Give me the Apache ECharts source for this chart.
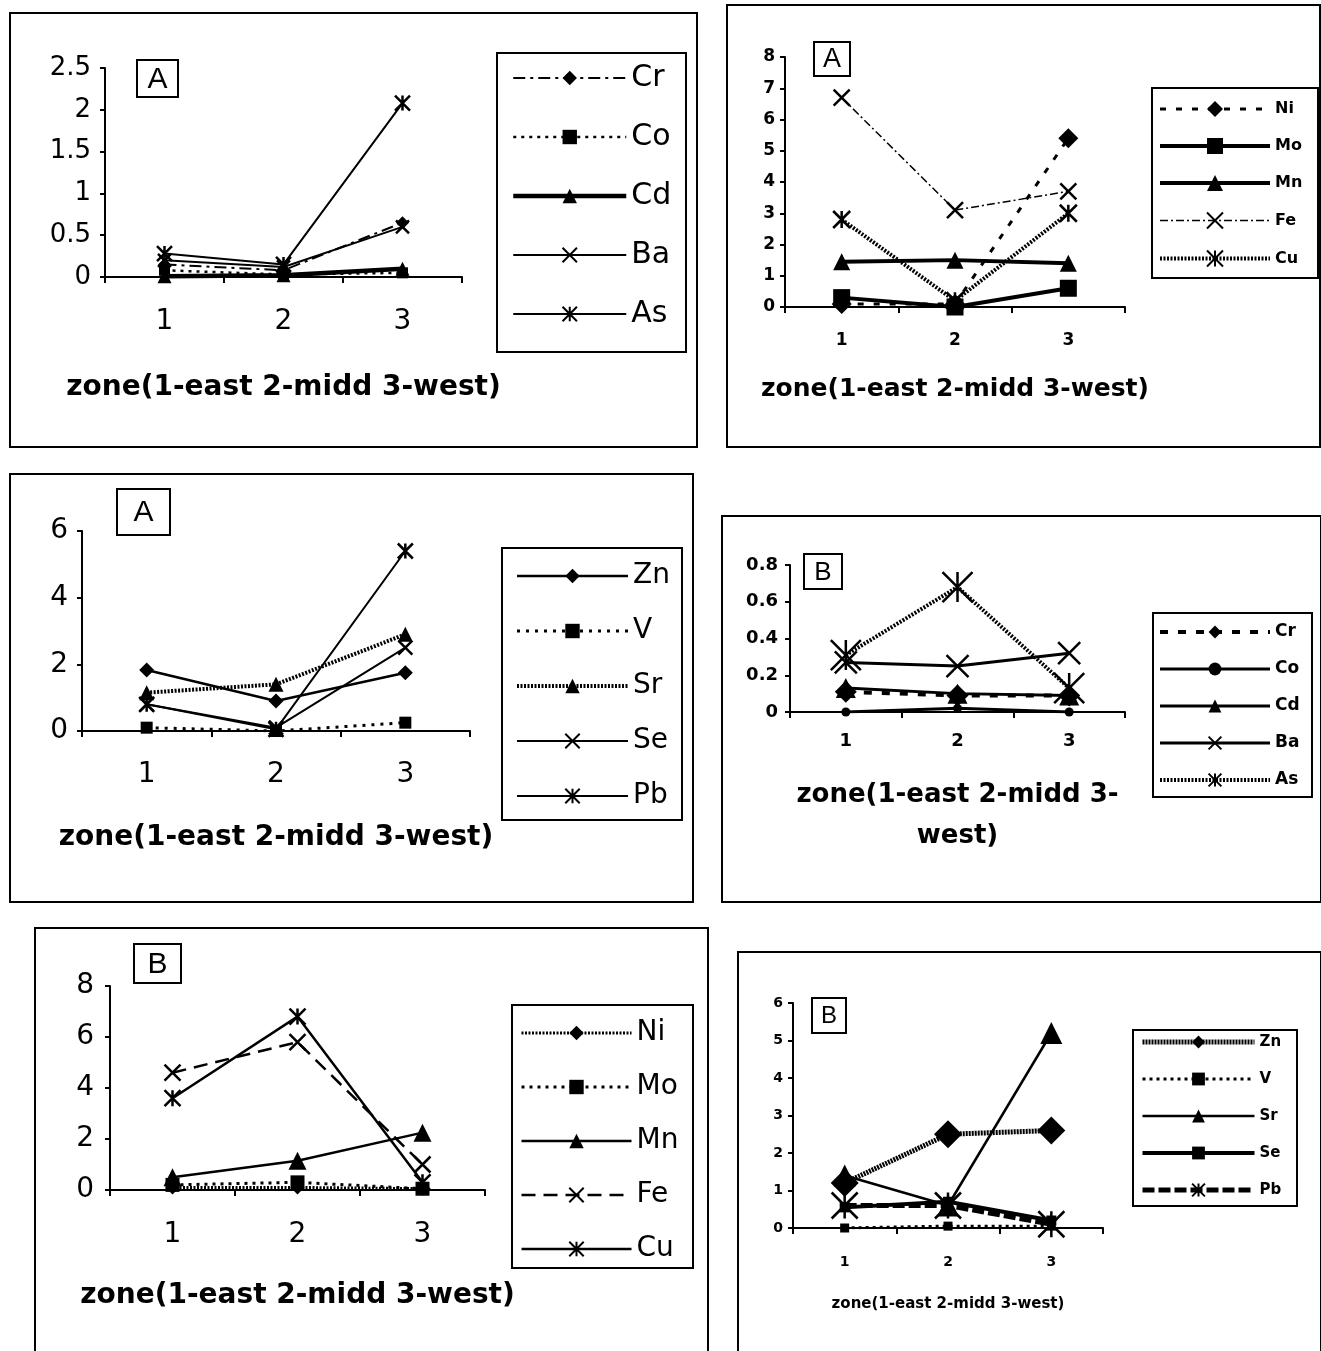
<!DOCTYPE html>
<html><head><meta charset="utf-8">
<script src="https://cdn.jsdelivr.net/npm/echarts@6/dist/echarts.min.js"></script>
<style>html,body{margin:0;padding:0;background:#fff}#c{width:1321px;height:1351px}</style>
</head><body><div id="c"></div>
<script>
// ---------------- DATA ----------------
const zones = ['1', '2', '3'];
const xAxisTitle = 'zone(1-east 2-midd 3-west)';
const xAxisTitleWrapped = 'zone(1-east 2-midd 3-\nwest)';

// Panel 1 (A) : Cr Co Cd Ba As
const p1Names = ['Cr', 'Co', 'Cd', 'Ba', 'As'];
const p1Cr = [0.15, 0.08, 0.65];
const p1Co = [0.08, 0.03, 0.05];
const p1Cd = [0.01, 0.02, 0.10];
const p1Ba = [0.20, 0.12, 0.60];
const p1As = [0.28, 0.15, 2.08];
const p1YAxis = [0, 2.5, 0.5];

// Panel 2 (A) : Ni Mo Mn Fe Cu
const p2Names = ['Ni', 'Mo', 'Mn', 'Fe', 'Cu'];
const p2Ni = [0.10, 0.10, 5.40];
const p2Mo = [0.30, 0.00, 0.60];
const p2Mn = [1.45, 1.50, 1.40];
const p2Fe = [6.70, 3.10, 3.70];
const p2Cu = [2.80, 0.20, 3.00];
const p2YAxis = [0, 8, 1];

// Panel 3 (A) : Zn V Sr Se Pb
const p3Names = ['Zn', 'V', 'Sr', 'Se', 'Pb'];
const p3Zn = [1.83, 0.90, 1.75];
const p3V  = [0.10, 0.00, 0.25];
const p3Sr = [1.15, 1.40, 2.90];
const p3Se = [0.80, 0.10, 2.50];
const p3Pb = [0.80, 0.05, 5.40];
const p3YAxis = [0, 6, 2];

// Panel 4 (B) : Cr Co Cd Ba As
const p4Names = ['Cr', 'Co', 'Cd', 'Ba', 'As'];
const p4Cr = [0.11, 0.09, 0.09];
const p4Co = [0.00, 0.02, 0.00];
const p4Cd = [0.13, 0.10, 0.09];
const p4Ba = [0.27, 0.25, 0.32];
const p4As = [0.31, 0.68, 0.13];
const p4YAxis = [0, 0.8, 0.2];

// Panel 5 (B) : Ni Mo Mn Fe Cu
const p5Names = ['Ni', 'Mo', 'Mn', 'Fe', 'Cu'];
const p5Ni = [0.10, 0.10, 0.05];
const p5Mo = [0.20, 0.30, 0.05];
const p5Mn = [0.50, 1.15, 2.25];
const p5Fe = [4.60, 5.80, 1.00];
const p5Cu = [3.60, 6.80, 0.30];
const p5YAxis = [0, 8, 2];

// Panel 6 (B) : Zn V Sr Se Pb
const p6Names = ['Zn', 'V', 'Sr', 'Se', 'Pb'];
const p6Zn = [1.20, 2.50, 2.60];
const p6V  = [0.00, 0.05, 0.05];
const p6Sr = [1.40, 0.60, 5.20];
const p6Se = [0.55, 0.70, 0.20];
const p6Pb = [0.60, 0.60, 0.10];
const p6YAxis = [0, 6, 1];

const panelTags = ['A', 'A', 'A', 'B', 'B', 'B'];

// ---------------- STYLES / LAYOUT ----------------
const XS = 'path://M0,0L10,10M0,10L10,0';
const STAR = 'path://M0,0L10,10M0,10L10,0M5,0L5,10';
const HATCH = [2, 1.5];
const F = 'DejaVu Sans';

function st(type, width, symbol, size) { return {type, width, symbol, size}; }

const layouts = [
  { // P1
    frame: [10, 13, 687, 434], grid: [105, 68, 357, 209],
    yFont: 26, yBold: 'normal', yMargin: 14, xFont: 28, xBold: 'normal', xMargin: 31,
    name: xAxisTitle, nameGap: 94, nameFont: 28, nameLH: 34,
    legend: {x: 511, y: 63, w: 113, h: 18, L: 30, gap: 29, font: 30, bold: 'normal'},
    lbox: [497, 53, 189, 299], tag: [137, 60, 41, 37, 30],
    styles: [st([12,5,3,5], 2, 'diamond', 13), st([3,5], 2.5, 'rect', 11), st('solid', 4.5, 'triangle', 14),
             st('solid', 2, XS, 13), st('solid', 2, STAR, 15)]
  },
  { // P2
    frame: [727, 5, 593, 442], grid: [785, 57, 340, 250],
    yFont: 17, yBold: 'bold', yMargin: 10, xFont: 17, xBold: 'bold', xMargin: 25,
    name: xAxisTitle, nameGap: 67, nameFont: 25, nameLH: 30,
    legend: {x: 1158, y: 99, w: 110, h: 20, L: 20, gap: 17, font: 16, bold: 'bold'},
    lbox: [1152, 88, 166, 190], tag: [814, 42, 36, 34, 27],
    styles: [st([6,10], 3, 'diamond', 20), st('solid', 4, 'rect', 17), st('solid', 4, 'triangle', 17),
             st([8,3,2,3], 1.5, XS, 16), st(HATCH, 4, STAR, 17)]
  },
  { // P3
    frame: [10, 474, 683, 428], grid: [82, 531, 388, 200],
    yFont: 28, yBold: 'normal', yMargin: 14, xFont: 28, xBold: 'normal', xMargin: 30,
    name: xAxisTitle, nameGap: 90, nameFont: 28, nameLH: 34,
    legend: {x: 515, y: 561, w: 111, h: 18, L: 30, gap: 25, font: 28, bold: 'normal'},
    lbox: [502, 548, 180, 272], tag: [117, 489, 53, 46, 30],
    styles: [st('solid', 2.5, 'diamond', 15), st([3,6], 3, 'rect', 12), st(HATCH, 4, 'triangle', 15),
             st('solid', 2, XS, 14), st('solid', 2, STAR, 15)]
  },
  { // P4
    frame: [722, 516, 599, 386], grid: [790, 565, 335, 147],
    yFont: 18, yBold: 'bold', yMargin: 12, xFont: 18, xBold: 'bold', xMargin: 20,
    name: xAxisTitleWrapped, nameGap: 63, nameFont: 26, nameLH: 41,
    legend: {x: 1158, y: 622, w: 110, h: 16, L: 20, gap: 17, font: 17, bold: 'bold'},
    lbox: [1153, 613, 159, 184], tag: [804, 554, 38, 35, 26],
    styles: [st([8,10], 4, 'diamond', 22), st('solid', 3, 'circle', 9), st('solid', 3, 'triangle', 20),
             st('solid', 3, XS, 22), st(HATCH, 4, STAR, 30)]
  },
  { // P5
    frame: [35, 928, 673, 430], grid: [110, 986, 375, 204],
    yFont: 28, yBold: 'normal', yMargin: 16, xFont: 28, xBold: 'normal', xMargin: 31,
    name: xAxisTitle, nameGap: 89, nameFont: 28, nameLH: 34,
    legend: {x: 520, y: 1018, w: 110, h: 18, L: 30, gap: 24, font: 28, bold: 'normal'},
    lbox: [512, 1005, 181, 263], tag: [134, 944, 47, 39, 30],
    styles: [st(HATCH, 3, 'diamond', 14), st([3,5], 3, 'rect', 14), st('solid', 2.5, 'triangle', 18),
             st([14,8], 2.5, XS, 16), st('solid', 2.5, STAR, 16)]
  },
  { // P6
    frame: [738, 952, 583, 406], grid: [793, 1003, 310, 225],
    yFont: 14, yBold: 'bold', yMargin: 10, xFont: 14, xBold: 'bold', xMargin: 27,
    name: xAxisTitle, nameGap: 67, nameFont: 15, nameLH: 18,
    legend: {x: 1140, y: 1032, w: 112, h: 16, L: 20, gap: 17, font: 15, bold: 'bold'},
    lbox: [1133, 1030, 164, 176], tag: [812, 998, 34, 35, 24],
    styles: [st([2,1], 5, 'diamond', 28), st([3,4], 3, 'rect', 9), st('solid', 2.5, 'triangle', 22),
             st('solid', 4, 'rect', 10), st([12,4], 5, STAR, 26)]
  }
];

const panelNames = [p1Names, p2Names, p3Names, p4Names, p5Names, p6Names];
const panelData = [
  [p1Cr, p1Co, p1Cd, p1Ba, p1As],
  [p2Ni, p2Mo, p2Mn, p2Fe, p2Cu],
  [p3Zn, p3V, p3Sr, p3Se, p3Pb],
  [p4Cr, p4Co, p4Cd, p4Ba, p4As],
  [p5Ni, p5Mo, p5Mn, p5Fe, p5Cu],
  [p6Zn, p6V, p6Sr, p6Se, p6Pb]
];
const panelY = [p1YAxis, p2YAxis, p3YAxis, p4YAxis, p5YAxis, p6YAxis];

// ---------------- BUILD ----------------
const grid = [], xAxis = [], yAxis = [], series = [], legend = [], graphic = [];

layouts.forEach((Lo, i) => {
  grid.push({left: Lo.grid[0], top: Lo.grid[1], width: Lo.grid[2], height: Lo.grid[3], containLabel: false});
  xAxis.push({
    type: 'category', gridIndex: i, data: zones, boundaryGap: true,
    axisLine: {lineStyle: {color: '#000', width: 2}},
    axisTick: {show: true, length: 6, lineStyle: {color: '#000', width: 2}},
    axisLabel: {color: '#000', fontSize: Lo.xFont, fontWeight: Lo.xBold, fontFamily: F, margin: Lo.xMargin},
    splitLine: {show: false},
    name: Lo.name, nameLocation: 'middle', nameGap: Lo.nameGap,
    nameTextStyle: {color: '#000', fontSize: Lo.nameFont, fontWeight: 'bold', fontFamily: F, lineHeight: Lo.nameLH}
  });
  const ya = panelY[i];
  yAxis.push({
    type: 'value', gridIndex: i, min: ya[0], max: ya[1], interval: ya[2],
    axisLine: {show: true, lineStyle: {color: '#000', width: 2}},
    axisTick: {show: true, length: 5, lineStyle: {color: '#000', width: 2}},
    axisLabel: {color: '#000', fontSize: Lo.yFont, fontWeight: Lo.yBold, fontFamily: F, margin: Lo.yMargin},
    splitLine: {show: false}
  });
  const names = panelNames[i];
  const legendData = [];
  names.forEach((nm, k) => {
    const s = Lo.styles[k];
    const isPath = typeof s.symbol === 'string' && s.symbol.indexOf('path://') === 0;
    const sid = nm + '#' + i;
    legendData.push(sid);
    series.push({
      type: 'line', name: sid, xAxisIndex: i, yAxisIndex: i,
      data: panelData[i][k],
      symbol: s.symbol, symbolSize: s.size, showAllSymbol: true,
      lineStyle: {color: '#000', width: s.width, type: s.type},
      itemStyle: isPath ? {color: 'none', borderColor: '#000', borderWidth: 2.5}
                        : {color: '#000', borderWidth: 0},
      emphasis: {disabled: true},
      z: 2 + k
    });
  });
  const lg = Lo.legend;
  legend.push({
    orient: 'vertical', left: lg.x, top: lg.y, padding: 0,
    itemWidth: lg.w, itemHeight: lg.h, itemGap: lg.gap,
    data: legendData, selectedMode: false,
    formatter: n => n.split('#')[0],
    lineStyle: {width: 'inherit', type: 'inherit'},
    textStyle: {color: '#000', fontSize: lg.font, fontWeight: lg.bold, fontFamily: F, lineHeight: lg.L}
  });
  // panel frame
  graphic.push({type: 'rect', shape: {x: Lo.frame[0], y: Lo.frame[1], width: Lo.frame[2], height: Lo.frame[3]},
    style: {fill: 'none', stroke: '#000', lineWidth: 2}, silent: true, z: 1});
  // legend box
  graphic.push({type: 'rect', shape: {x: Lo.lbox[0], y: Lo.lbox[1], width: Lo.lbox[2], height: Lo.lbox[3]},
    style: {fill: 'none', stroke: '#000', lineWidth: 2}, silent: true, z: 1});
  // tag box
  const t = Lo.tag;
  graphic.push({type: 'rect', shape: {x: t[0], y: t[1], width: t[2], height: t[3]},
    style: {fill: '#fff', stroke: '#000', lineWidth: 2}, silent: true, z: 1});
  graphic.push({type: 'text', x: t[0] + t[2] / 2, y: t[1] + t[3] / 2 + 1,
    style: {text: panelTags[i], fill: '#000', font: t[4] + 'px "Liberation Sans"',
      align: 'center', verticalAlign: 'middle', textAlign: 'center', textVerticalAlign: 'middle'},
    silent: true, z: 2});
});

const chart = echarts.init(document.getElementById('c'), null, {renderer: 'canvas'});
chart.setOption({
  animation: false,
  backgroundColor: '#fff',
  grid, xAxis, yAxis, series, legend, graphic
});
</script>
</body></html>
